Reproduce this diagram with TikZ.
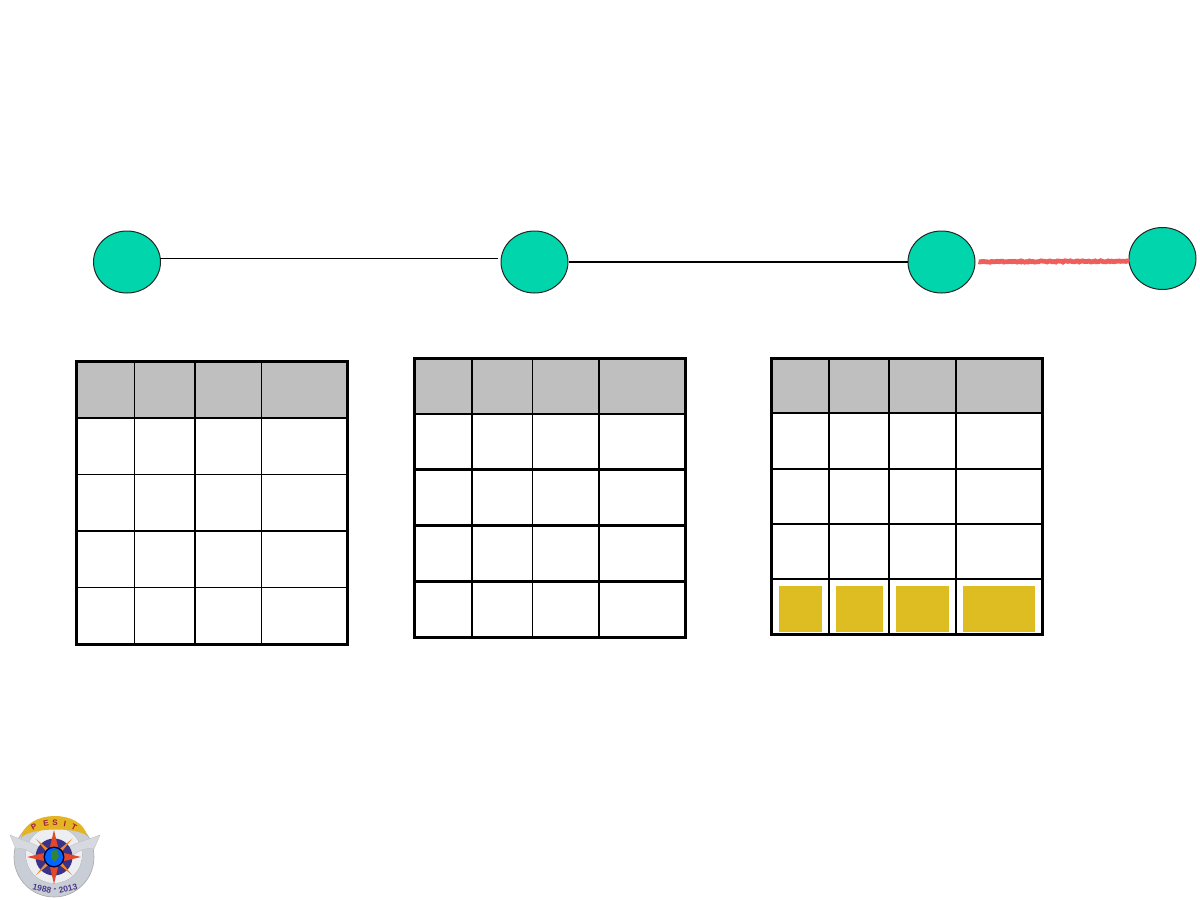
\documentclass[tikz,border=0pt]{standalone}
\usepackage{fontspec}
\setmainfont{Liberation Sans}
\usetikzlibrary{shapes.geometric,decorations.pathmorphing,calc}
\definecolor{nodegreen}{HTML}{00D5AC}
\definecolor{headgray}{HTML}{BFBFBF}
\definecolor{linkred}{HTML}{EE5F5B}
\definecolor{cellgold}{HTML}{DDBD21}
\definecolor{logogold}{HTML}{E4B422}
\definecolor{logosilver}{HTML}{C9CED6}
\definecolor{logonavy}{HTML}{3B3288}
\definecolor{logored}{HTML}{E2492A}
\definecolor{logoorange}{HTML}{F08A24}
\definecolor{logotext}{HTML}{4A3A86}
\definecolor{logomaroon}{HTML}{9C1F3A}
\tikzset{
  x=1pt,y=-1pt,
  router/.style={ellipse,draw=black!85,line width=1pt,fill=nodegreen,minimum width=67pt,minimum height=62pt,inner sep=0pt},
  thinlink/.style={draw=black,line width=1.1pt},
  thicklink/.style={draw=black,line width=2pt},
  faillink/.style={draw=linkred,line width=4.8pt,decorate,decoration={random steps,segment length=1.6pt,amplitude=.6pt}},
  frame/.style={draw=black,line width=3pt},
  thinrule/.style={draw=black,line width=1.3pt},
  thickrule/.style={draw=black,line width=2.2pt},
  headcell/.style={fill=headgray},
  goldcell/.style={fill=cellgold},
  pesit/.style={inner sep=0pt,font=\bfseries\fontsize{8}{8}\selectfont,text=logomaroon},
  years/.style={inner sep=0pt,font=\bfseries\fontsize{8.5}{8.5}\selectfont,text=logotext},
}
\begin{document}
\begin{tikzpicture}
\useasboundingbox (0,0) rectangle (1200,900);
% nodes
\node[router] (a) at (127,262) {};
\node[router] (b) at (534.5,262) {};
\node[router] (c) at (941.5,262) {};
\node[router] (d) at (1162.5,258.5) {};
% links
\draw[thinlink] ([yshift=3.7pt,xshift=-1.5pt]a.east) -- ([yshift=3.7pt,xshift=-3pt]b.west);
\draw[thicklink] (b.east) -- (c.west);
\coordinate (cgap) at ($(c.east)+(3,-0.3)$);
\draw[faillink] (cgap) -- ($(d.west)+(1,2.7)$);
% table 1
\fill[headcell] (76.5,361.5) rectangle (347.5,418);
\draw[thinrule] (134.3,361.5) -- (134.3,644) (261.7,361.5) -- (261.7,644) (76.5,474.3) -- (347.5,474.3) (76.5,587.3) -- (347.5,587.3);
\draw[thickrule] (195,361.5) -- (195,644) (76.5,418) -- (347.5,418) (76.5,531) -- (347.5,531);
\draw[frame] (76.5,361.5) rectangle (347.5,644);
% table 2
\fill[headcell] (414,358.5) rectangle (685,414);
\draw[thinrule] (532.3,358.5) -- (532.3,637) (414,414) -- (685,414);
\draw[thickrule] (471.7,358.5) -- (471.7,637) (599,358.5) -- (599,637) (414,469.5) -- (685,469.5) (414,525.5) -- (685,525.5) (414,581.5) -- (685,581.5);
\draw[frame] (414,358.5) rectangle (685,637);
% table 3
\fill[headcell] (771.5,358.5) rectangle (1042,413);
\fill[goldcell] (779,586) rectangle (822,632);
\fill[goldcell] (836,586) rectangle (883,632);
\fill[goldcell] (896,586) rectangle (949,632);
\fill[goldcell] (963,586) rectangle (1035,632);
\draw[thinrule] (889,358.5) -- (889,634) (771.5,413) -- (1042,413);
\draw[thickrule] (828.7,358.5) -- (828.7,634) (956,358.5) -- (956,634) (771.5,468.7) -- (1042,468.7) (771.5,523.7) -- (1042,523.7) (771.5,579) -- (1042,579);
\draw[frame] (771.5,358.5) rectangle (1042,634);
% logo
\begin{scope}[shift={(54,857)}]
  \fill[logosilver,draw=gray!70,line width=.6pt,even odd rule] (0,0) circle (40) (0,-2) circle (28);
  \fill[logosilver!35!white] (0,-2) circle (28);
  \fill[logosilver!75!white,draw=gray!50,line width=.4pt] (-44,-22) .. controls (-30,-16) and (-20,-14) .. (-12,-8) -- (-15,2) .. controls (-22,-6) and (-32,-10) .. (-38,-8) -- cycle;
  \fill[logosilver!75!white,draw=gray!50,line width=.4pt] (46,-22) .. controls (30,-16) and (20,-14) .. (12,-8) -- (15,2) .. controls (22,-6) and (32,-10) .. (40,-8) -- cycle;
  \fill[logogold] (-33,-19) .. controls (-28,-48) and (28,-48) .. (33,-21) .. controls (24,-30) and (-24,-30) .. (-33,-19) -- cycle;
  \fill[logonavy] (0,0) circle (18.5);
  \fill[logoorange] (45:26) -- (30:7) -- (60:7) -- cycle (135:26) -- (120:7) -- (150:7) -- cycle (225:26) -- (210:7) -- (240:7) -- cycle (315:26) -- (300:7) -- (330:7) -- cycle;
  \fill[logored] (0,-27) -- (4.5,-8) -- (-4.5,-8) -- cycle (0,27) -- (4.5,8) -- (-4.5,8) -- cycle (-27,0) -- (-8,-4.5) -- (-8,4.5) -- cycle (27,0) -- (8,-4.5) -- (8,4.5) -- cycle;
  \fill[black!75!blue] (0,0) circle (10.5);
  \fill[blue!60!cyan] (0,0) circle (9);
  \fill[green!40!black!80] (-3,-6) -- (3,-7) -- (5,-1) -- (1,5) -- (-3,1) -- cycle;
  \node[pesit,rotate=28] (p1) at (-20,-30) {P};
  \node[pesit,rotate=10] (p2) at (-8,-34) {E};
  \node[pesit] (p3) at (1,-34.5) {S};
  \node[pesit,rotate=-10] (p4) at (11,-33.5) {I};
  \node[pesit,rotate=-28] (p5) at (20,-29.5) {T};
  \node[years,rotate=-14] (y1) at (-12,31.5) {1988};
  \node[years] (y2) at (1,33.5) {-};
  \node[years,rotate=14] (y3) at (14,31.5) {2013};
\end{scope}
\end{tikzpicture}
\end{document}
